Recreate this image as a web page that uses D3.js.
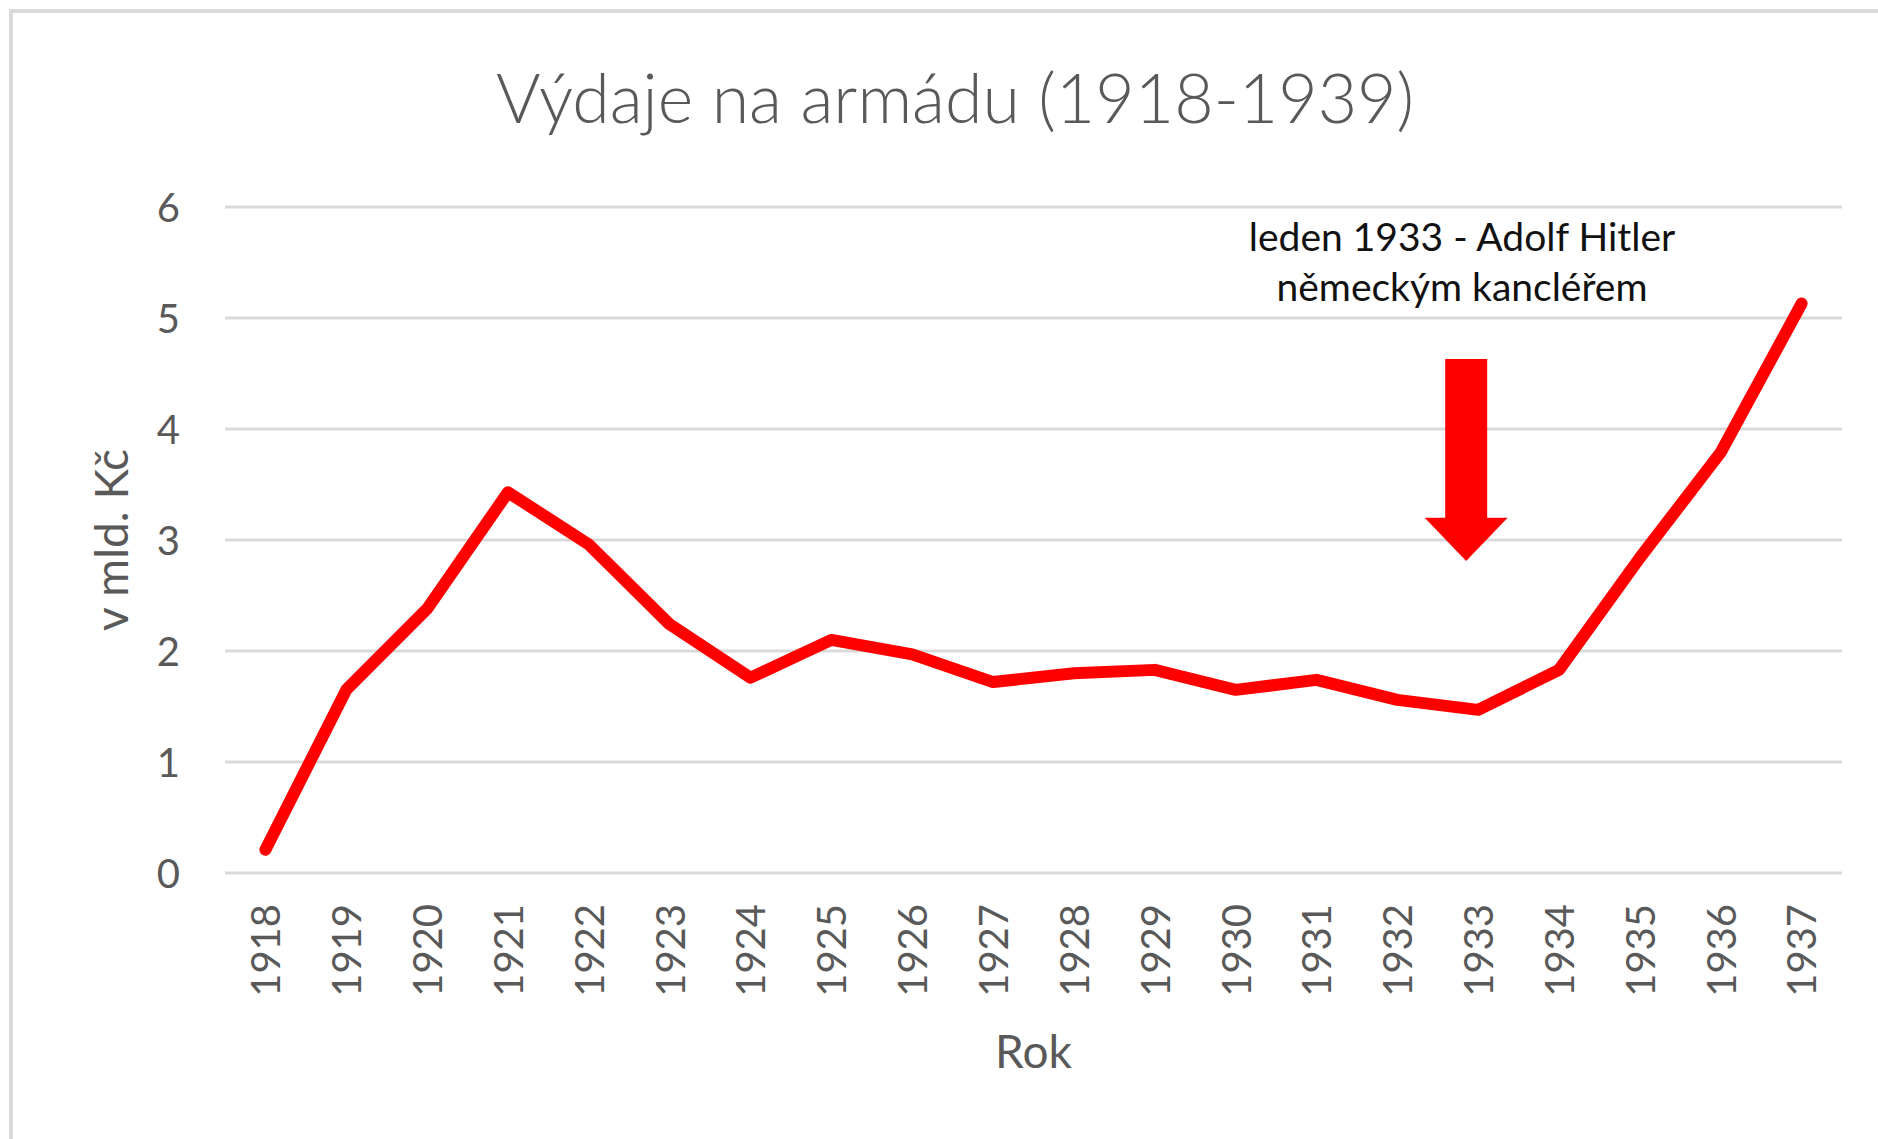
<!DOCTYPE html>
<meta charset="utf-8">
<style>
  body { margin: 0; background: #fff; }
  text { font-family: Lato, "Open Sans", sans-serif; }
  .grid line { stroke: #d9d9d9; stroke-width: 3px; }
  .axis text { fill: #595959; }
</style>
<svg width="1878" height="1139"></svg>
<script src="https://cdn.jsdelivr.net/npm/d3@7"></script>
<script>
// hodnoty (mld. Kč)
var years = ["1918", "1919", "1920", "1921", "1922", "1923", "1924", "1925", "1926", "1927",
             "1928", "1929", "1930", "1931", "1932", "1933", "1934", "1935", "1936", "1937"];
var spending = [0.21, 1.65, 2.38, 3.43, 2.96, 2.24, 1.76, 2.10, 1.97, 1.72,
                1.80, 1.83, 1.65, 1.74, 1.56, 1.47, 1.83, 2.84, 3.79, 5.13];
var yTicks = [0, 1, 2, 3, 4, 5, 6];

var titleText = "Výdaje na armádu (1918-1939)";
var yTitle = "v mld. Kč";
var xTitle = "Rok";
var noteLines = ["leden 1933 - Adolf Hitler", "německým kancléřem"];
// šipka: rok, kde stojí, a výšky (v mld.) začátku a hrotu
var arrowYear = "1933", arrowTop = 4.63, arrowHeadBase = 3.2, arrowTip = 2.81;

var svg = d3.select("svg");
var margin = {left: 225, right: 36, top: 207, bottom: 266};
var width = 1878, height = 1139;

// chart area border
svg.append("rect")
  .attr("x", 11).attr("y", 11)
  .attr("width", width + 20).attr("height", height + 20)
  .attr("fill", "#fff")
  .attr("stroke", "#d9d9d9")
  .attr("stroke-width", 4);

var x = d3.scalePoint()
  .domain(years)
  .range([margin.left, width - margin.right])
  .padding(0.5);

var y = d3.scaleLinear()
  .domain([0, 6])
  .range([height - margin.bottom, margin.top]);

// gridlines
svg.append("g")
  .attr("class", "grid")
  .selectAll("line")
  .data(yTicks)
  .enter().append("line")
  .attr("x1", margin.left)
  .attr("x2", width - margin.right)
  .attr("y1", d => y(d))
  .attr("y2", d => y(d));

// y axis labels
var yAxis = svg.append("g")
  .attr("class", "axis")
  .attr("transform", "translate(" + (margin.left - 45) + ",0)")
  .call(d3.axisLeft(y).tickValues(yTicks).tickFormat(d3.format("d")).tickSize(0).tickPadding(0));
yAxis.select(".domain").remove();
yAxis.selectAll("text").style("font-size", "40px").attr("dy", "0.36em");

// x axis labels, rotated
var xAxis = svg.append("g")
  .attr("class", "axis")
  .attr("transform", "translate(0," + y(0) + ")")
  .call(d3.axisBottom(x).tickSize(0).tickPadding(0));
xAxis.select(".domain").remove();
xAxis.selectAll("text")
  .style("font-size", "40px")
  .attr("text-anchor", "end")
  .attr("transform", "rotate(-90)")
  .attr("x", -31)
  .attr("y", 0)
  .attr("dy", "0.36em");

// title
svg.append("text")
  .attr("x", 955).attr("y", 123)
  .attr("text-anchor", "middle")
  .style("font-size", "68px")
  .style("font-weight", 300)
  .attr("fill", "#595959")
  .text(titleText);

// axis titles
svg.append("text")
  .attr("transform", "translate(128," + ((y(0) + y(6)) / 2) + ") rotate(-90)")
  .attr("text-anchor", "middle")
  .style("font-size", "46px")
  .attr("fill", "#595959")
  .text(yTitle);

svg.append("text")
  .attr("x", (margin.left + width - margin.right) / 2)
  .attr("y", 1068)
  .attr("text-anchor", "middle")
  .style("font-size", "46px")
  .attr("fill", "#595959")
  .text(xTitle);

// line
var line = d3.line()
  .x((d, i) => x(years[i]))
  .y(d => y(d));

svg.append("path")
  .datum(spending)
  .attr("d", line)
  .attr("fill", "none")
  .attr("stroke", "#ff0000")
  .attr("stroke-width", 12)
  .attr("stroke-linejoin", "round")
  .attr("stroke-linecap", "round");

// annotation
var ax = x(arrowYear) - 12;
var shaft = 21, head = 41.5;
svg.append("path")
  .attr("d", "M" + (ax - shaft) + "," + y(arrowTop) +
             "H" + (ax + shaft) + "V" + y(arrowHeadBase) +
             "H" + (ax + head) + "L" + ax + "," + y(arrowTip) +
             "L" + (ax - head) + "," + y(arrowHeadBase) +
             "H" + (ax - shaft) + "Z")
  .attr("fill", "#ff0000");

svg.append("g")
  .selectAll("text")
  .data(noteLines)
  .enter().append("text")
  .attr("x", 1462)
  .attr("y", (d, i) => 251 + i * 50)
  .attr("text-anchor", "middle")
  .style("font-size", "39px")
  .attr("fill", "#111")
  .text(d => d);
</script>
